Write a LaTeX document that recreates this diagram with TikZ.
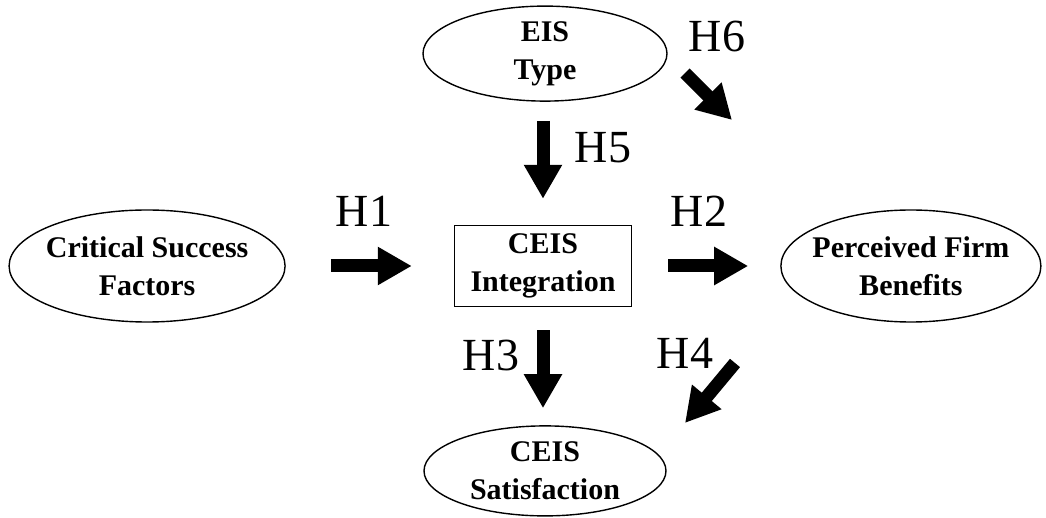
\documentclass[tikz,border=0pt]{standalone}
\usepackage{fontspec}
\setmainfont{Liberation Serif}
\usetikzlibrary{arrows.meta,positioning,shapes.geometric}
\tikzset{
  x=0.5pt,y=-0.5pt,
  every node/.style={text=black},
  construct/.style={ellipse,draw,line width=0.7pt,inner sep=-10pt,align=center,font=\fontsize{15}{19}\selectfont\bfseries},
  focal/.style={rectangle,draw,line width=0.7pt,minimum width=88.5pt,minimum height=40.5pt,inner sep=0pt,align=center,font=\fontsize{15}{19}\selectfont\bfseries},
  hyp/.style={font=\fontsize{23}{23}\selectfont,inner sep=0pt},
  blockarr/.style={line width=6.5pt,-{Triangle[length=17pt,width=18pt]}}
}
\begin{document}
\begin{tikzpicture}
  \useasboundingbox (0,0) rectangle (1046,518);

  \node[focal] (ceis) at (543,266) {CEIS\\Integration};
  \node[construct,minimum width=138pt,minimum height=56pt,left=84pt of ceis] (csf) {Critical Success\\Factors};
  \node[construct,minimum width=130pt,minimum height=56pt,right=74pt of ceis] (pfb) {Perceived Firm\\Benefits};
  \node[construct,minimum width=122pt,minimum height=47.5pt,above=61.5pt of ceis,xshift=1pt] (eis) {EIS\\Type};
  \node[construct,minimum width=121pt,minimum height=45pt,below=59pt of ceis,xshift=1pt] (sat) {CEIS\\Satisfaction};

  \coordinate (h6s) at (685,73);
  \coordinate (h6e) at (732,120);
  \coordinate (h4s) at (735,363);
  \coordinate (h4e) at (685,423);

  \draw[blockarr,shorten <=22.5pt,shorten >=21pt] (csf.east) -- (ceis.west);
  \draw[blockarr,shorten <=18pt,shorten >=16pt] (ceis.east) -- (pfb.west);
  \draw[blockarr,shorten <=9.5pt,shorten >=13pt] (ceis.north |- eis.south) -- (ceis.north);
  \draw[blockarr,shorten <=11.5pt,shorten >=8.5pt] (ceis.south) -- (ceis.south |- sat.north);
  \draw[blockarr] (h6s) -- (h6e);
  \draw[blockarr] (h4s) -- (h4e);

  \node[hyp] (l1) at (364,211) {H1};
  \node[hyp] (l2) at (699,211) {H2};
  \node[hyp] (l3) at (491,355) {H3};
  \node[hyp] (l4) at (685,353) {H4};
  \node[hyp] (l5) at (603,148) {H5};
  \node[hyp] (l6) at (717,36) {H6};
\end{tikzpicture}
\end{document}
